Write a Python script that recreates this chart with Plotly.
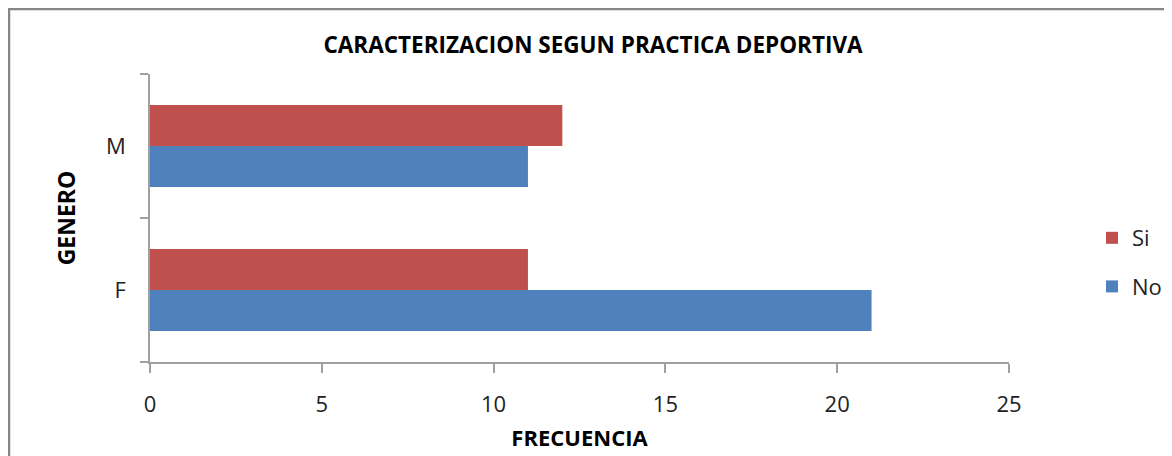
import plotly.graph_objects as go

categories = ["F", "M"]
si_values = [11, 12]
no_values = [21, 11]
x_ticks = [0, 5, 10, 15, 20, 25]

FONT = "Open Sans"
W, H = 1172, 456
OFF = 8  # page body offset of the figure
L, T = 150 - OFF, 74 - OFF
pw, ph = 859, 288
R, B = W - L - pw, H - T - ph

fig = go.Figure()
fig.add_trace(go.Bar(y=categories, x=no_values, name="No", orientation="h",
                     marker=dict(color="#4F81BD", line=dict(width=0)),
                     legendgroup="no", legendrank=2))
fig.add_trace(go.Bar(y=categories, x=si_values, name="Si", orientation="h",
                     marker=dict(color="#C0504D", line=dict(width=0)),
                     legendgroup="si", legendrank=1))

def px_x(p):  # screen px -> paper
    return (p - OFF - L) / pw

def px_y(p):
    return (T + ph - (p - OFF)) / ph

fig.update_layout(
    width=W, height=H,
    margin=dict(l=L, r=R, t=T, b=B, pad=0),
    paper_bgcolor="white", plot_bgcolor="white",
    barmode="group", bargap=0.43, bargroupgap=0,
    font=dict(family=FONT, size=22, color="#222222"),
    title=dict(text="<b>CARACTERIZACION SEGUN PRACTICA DEPORTIVA</b>",
               x=(593 - OFF) / W, xanchor="center", y=1 - (45 - OFF) / H, yanchor="middle",
               font=dict(family=FONT, size=22.5, color="#000000")),
    xaxis=dict(range=[0, 25], tickvals=x_ticks, showgrid=False, zeroline=False,
               showline=True, linecolor="#A0A0A0", linewidth=1.5,
               ticks="outside", ticklen=9, tickcolor="#A0A0A0", tickwidth=1.5,
               ticklabelstandoff=13, tickfont=dict(size=22, color="#222222"),
               title=dict(text="<b>FRECUENCIA</b>", standoff=13,
                          font=dict(size=22, color="#000000"))),
    yaxis=dict(categoryorder="array", categoryarray=categories, showgrid=False,
               showline=True, linecolor="#A0A0A0", linewidth=1.5,
               ticks="outside", ticklen=8, tickcolor="#A0A0A0", tickwidth=1.5,
               tickson="boundaries", ticklabelstandoff=18,
               tickfont=dict(size=22, color="#222222"),
               title=dict(text="<b>GENERO</b>", standoff=24,
                          font=dict(size=23, color="#000000"))),
    legend=dict(x=px_x(1092), xanchor="left", y=px_y(217), yanchor="top",
                traceorder="grouped", tracegroupgap=17,
                font=dict(size=22, color="#222222"), bgcolor="rgba(0,0,0,0)",
                itemwidth=30),
    shapes=[dict(type="rect", xref="paper", yref="paper",
                 x0=px_x(OFF + 1), x1=px_x(W + 40), y0=px_y(H + 40), y1=px_y(OFF + 1),
                 line=dict(color="#868686", width=2.5), fillcolor="rgba(0,0,0,0)",
                 layer="below")],
)

fig.write_html("out.html")
